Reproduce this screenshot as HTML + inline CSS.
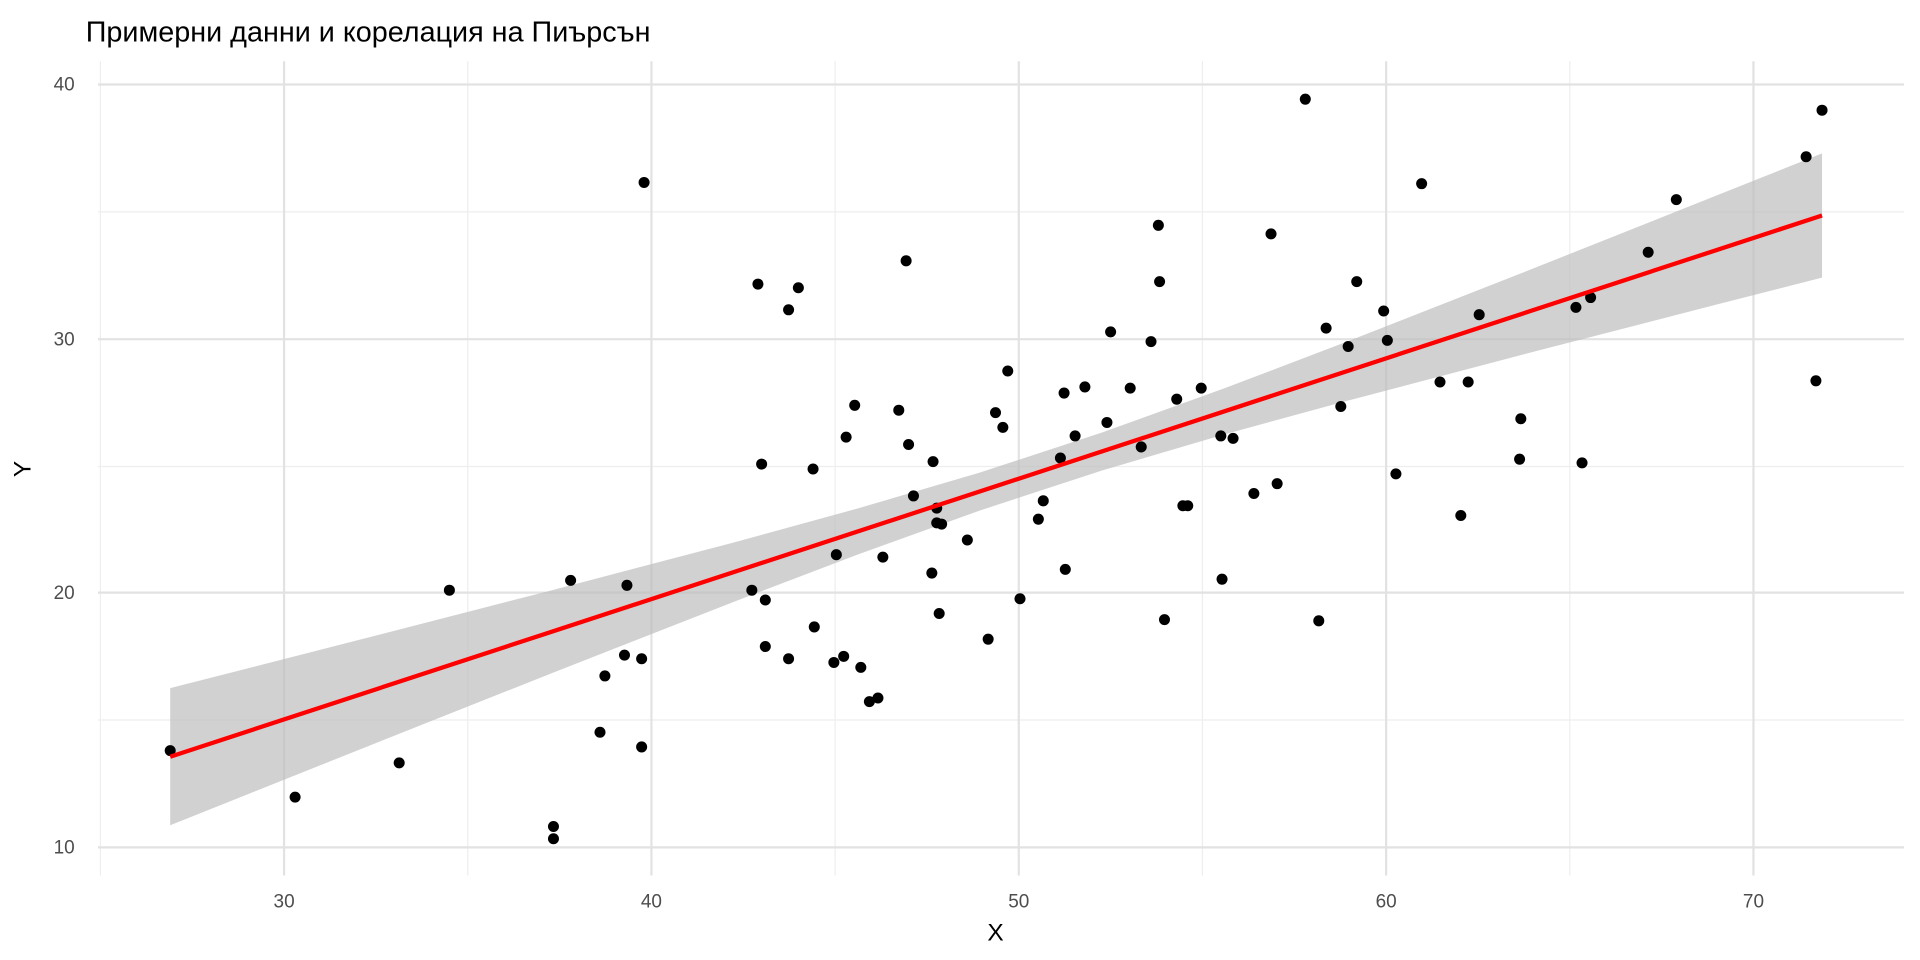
<!DOCTYPE html>
<html><head><meta charset="utf-8"><style>html,body{margin:0;padding:0;background:#fff;width:1920px;height:960px;overflow:hidden}svg{display:block;width:1920px;height:960px}text{font-family:"Liberation Sans",sans-serif}</style></head>
<body>
<svg width="1920" height="960" viewBox="0 0 1568 784" preserveAspectRatio="none" xmlns="http://www.w3.org/2000/svg">
<rect width="1568" height="784" fill="#fff"/>
<g stroke="#eeeeee" stroke-width="1">
<line x1="82" y1="50" x2="82" y2="715"/><line x1="382" y1="50" x2="382" y2="715"/><line x1="682" y1="50" x2="682" y2="715"/><line x1="982" y1="50" x2="982" y2="715"/><line x1="1282" y1="50" x2="1282" y2="715"/>
<line x1="80" y1="588" x2="1555" y2="588"/><line x1="80" y1="381" x2="1555" y2="381"/><line x1="80" y1="173" x2="1555" y2="173"/>
</g>
<g stroke="#e2e2e2" stroke-width="1.8">
<line x1="232" y1="50" x2="232" y2="715"/><line x1="532" y1="50" x2="532" y2="715"/><line x1="832" y1="50" x2="832" y2="715"/><line x1="1132" y1="50" x2="1132" y2="715"/><line x1="1432" y1="50" x2="1432" y2="715"/>
<line x1="80" y1="692" x2="1555" y2="692"/><line x1="80" y1="484" x2="1555" y2="484"/><line x1="80" y1="277" x2="1555" y2="277"/><line x1="80" y1="69" x2="1555" y2="69"/>
</g>
<path fill="#bdbdbd" fill-opacity="0.7" d="M139,562 L300,520.8 L450,482.2 L600,442.8 L700,415.4 L800,386 L900,353.2 L1000,317.1 L1100,279 L1250,220.1 L1400,160.4 L1488,125.3 L1488,226.7 L1400,249.2 L1250,287.9 L1100,327.4 L1000,354.7 L900,384.2 L800,417 L700,453 L600,491.2 L450,550 L300,609.6 L139,674 Z"/>
<g fill="#000">
<circle cx="139" cy="613" r="4.5"/><circle cx="241" cy="651" r="4.5"/><circle cx="326" cy="623" r="4.5"/><circle cx="367" cy="482" r="4.5"/><circle cx="452" cy="675" r="4.5"/><circle cx="452" cy="685" r="4.5"/><circle cx="466" cy="474" r="4.5"/><circle cx="490" cy="598" r="4.5"/><circle cx="494" cy="552" r="4.5"/><circle cx="510" cy="535" r="4.5"/><circle cx="512" cy="478" r="4.5"/><circle cx="524" cy="538" r="4.5"/><circle cx="524" cy="610" r="4.5"/><circle cx="526" cy="149" r="4.5"/><circle cx="614" cy="482" r="4.5"/><circle cx="619" cy="232" r="4.5"/><circle cx="622" cy="379" r="4.5"/><circle cx="625" cy="490" r="4.5"/><circle cx="625" cy="528" r="4.5"/><circle cx="644" cy="253" r="4.5"/><circle cx="644" cy="538" r="4.5"/><circle cx="652" cy="235" r="4.5"/><circle cx="664" cy="383" r="4.5"/><circle cx="665" cy="512" r="4.5"/><circle cx="683" cy="453" r="4.5"/><circle cx="681" cy="541" r="4.5"/><circle cx="689" cy="536" r="4.5"/><circle cx="691" cy="357" r="4.5"/><circle cx="698" cy="331" r="4.5"/><circle cx="703" cy="545" r="4.5"/><circle cx="710" cy="573" r="4.5"/><circle cx="717" cy="570" r="4.5"/><circle cx="721" cy="455" r="4.5"/><circle cx="734" cy="335" r="4.5"/><circle cx="740" cy="213" r="4.5"/><circle cx="742" cy="363" r="4.5"/><circle cx="746" cy="405" r="4.5"/><circle cx="761" cy="468" r="4.5"/><circle cx="762" cy="377" r="4.5"/><circle cx="765" cy="415" r="4.5"/><circle cx="765" cy="427" r="4.5"/><circle cx="767" cy="501" r="4.5"/><circle cx="769" cy="428" r="4.5"/><circle cx="790" cy="441" r="4.5"/><circle cx="807" cy="522" r="4.5"/><circle cx="813" cy="337" r="4.5"/><circle cx="819" cy="349" r="4.5"/><circle cx="823" cy="303" r="4.5"/><circle cx="833" cy="489" r="4.5"/><circle cx="848" cy="424" r="4.5"/><circle cx="852" cy="409" r="4.5"/><circle cx="866" cy="374" r="4.5"/><circle cx="869" cy="321" r="4.5"/><circle cx="870" cy="465" r="4.5"/><circle cx="878" cy="356" r="4.5"/><circle cx="886" cy="316" r="4.5"/><circle cx="904" cy="345" r="4.5"/><circle cx="907" cy="271" r="4.5"/><circle cx="923" cy="317" r="4.5"/><circle cx="932" cy="365" r="4.5"/><circle cx="940" cy="279" r="4.5"/><circle cx="946" cy="184" r="4.5"/><circle cx="947" cy="230" r="4.5"/><circle cx="951" cy="506" r="4.5"/><circle cx="961" cy="326" r="4.5"/><circle cx="966" cy="413" r="4.5"/><circle cx="970" cy="413" r="4.5"/><circle cx="981" cy="317" r="4.5"/><circle cx="997" cy="356" r="4.5"/><circle cx="998" cy="473" r="4.5"/><circle cx="1007" cy="358" r="4.5"/><circle cx="1024" cy="403" r="4.5"/><circle cx="1038" cy="191" r="4.5"/><circle cx="1043" cy="395" r="4.5"/><circle cx="1066" cy="81" r="4.5"/><circle cx="1077" cy="507" r="4.5"/><circle cx="1083" cy="268" r="4.5"/><circle cx="1095" cy="332" r="4.5"/><circle cx="1101" cy="283" r="4.5"/><circle cx="1108" cy="230" r="4.5"/><circle cx="1130" cy="254" r="4.5"/><circle cx="1133" cy="278" r="4.5"/><circle cx="1140" cy="387" r="4.5"/><circle cx="1161" cy="150" r="4.5"/><circle cx="1176" cy="312" r="4.5"/><circle cx="1193" cy="421" r="4.5"/><circle cx="1199" cy="312" r="4.5"/><circle cx="1208" cy="257" r="4.5"/><circle cx="1242" cy="342" r="4.5"/><circle cx="1241" cy="375" r="4.5"/><circle cx="1287" cy="251" r="4.5"/><circle cx="1292" cy="378" r="4.5"/><circle cx="1299" cy="243" r="4.5"/><circle cx="1346" cy="206" r="4.5"/><circle cx="1369" cy="163" r="4.5"/><circle cx="1475" cy="128" r="4.5"/><circle cx="1483" cy="311" r="4.5"/><circle cx="1488" cy="90" r="4.5"/>
</g>
<line x1="139" y1="618" x2="1488" y2="176" stroke="#ff0000" stroke-width="3.5"/>
<g fill="#4d4d4d" font-size="15.5" text-anchor="middle">
<text x="232" y="741">30</text><text x="532" y="741">40</text><text x="832" y="741">50</text><text x="1132" y="741">60</text><text x="1432" y="741">70</text>
</g>
<g fill="#4d4d4d" font-size="15.5" text-anchor="end">
<text x="61" y="697">10</text><text x="61" y="489">20</text><text x="61" y="282">30</text><text x="61" y="74">40</text>
</g>
<text x="813" y="768" font-size="20" text-anchor="middle" fill="#000">X</text>
<text transform="translate(25,383) rotate(-90)" font-size="20" text-anchor="middle" fill="#000">Y</text>
<text x="70" y="34" font-size="23.5" fill="#000">Примерни данни и корелация на Пиърсън</text>
</svg>
</body></html>
